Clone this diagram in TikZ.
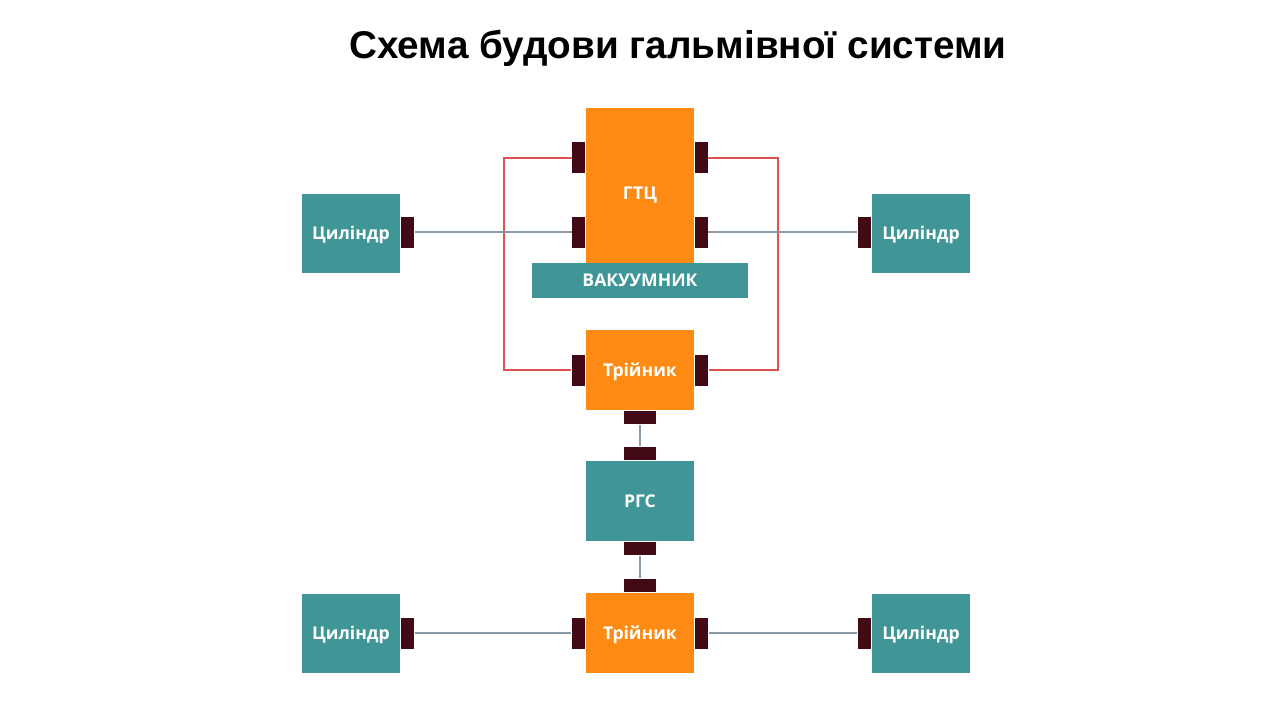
\documentclass[tikz,border=0pt]{standalone}
\usepackage{fontspec}
\setmainfont{Liberation Sans}
\newfontfamily\boxfont{Open Sans}
\usetikzlibrary{positioning}
\definecolor{GTCorange}{RGB}{253,139,19}
\definecolor{RGSteal}{RGB}{64,150,150}
\definecolor{portdark}{RGB}{66,10,20}
\definecolor{pipered}{RGB}{222,82,82}
\definecolor{pipegrey}{RGB}{138,154,166}
\tikzset{
	unit/.style={shape=rectangle, inner sep=0pt, text=white, text height=3.6pt, text depth=0pt, font=\boxfont\bfseries\fontsize{5}{6}\selectfont},
	orangeunit/.style={unit, fill=GTCorange, minimum width=1.08cm, minimum height=0.8cm},
	tealunit/.style={unit, fill=RGSteal, minimum width=1.08cm, minimum height=0.8cm},
	cylunit/.style={unit, fill=RGSteal, minimum width=0.98cm, minimum height=0.79cm},
	sideport/.style={shape=rectangle, inner sep=0pt, fill=portdark, minimum width=0.13cm, minimum height=0.31cm},
	endport/.style={shape=rectangle, inner sep=0pt, fill=portdark, minimum width=0.32cm, minimum height=0.13cm},
	redpipe/.style={draw=pipered, line width=0.02cm},
	greypipe/.style={draw=pipegrey, line width=0.02cm}
}
\begin{document}
\begin{tikzpicture}[x=0.01cm, y=-0.01cm]
	\useasboundingbox[fill=white] (0,0) rectangle (1280,720);

	% title
	\node[font=\bfseries\fontsize{11}{13}\selectfont] (title) at (678,48) {Схема будови гальмівної системи};

	% GTC with vacuum booster
	\node[orangeunit, minimum height=1.7cm] (gtc) at (640,193) {ГТЦ};
	\node[tealunit, minimum width=2.16cm, minimum height=0.35cm] (vac) at (640,280.5) {ВАКУУМНИК};
	\node[sideport, anchor=east] (gtcL1) at (586,157.5) {};
	\node[sideport, anchor=east] (gtcL2) at (586,232) {};
	\node[sideport, anchor=west] (gtcR1) at (694,157.5) {};
	\node[sideport, anchor=west] (gtcR2) at (694,232) {};

	% upper tee
	\node[orangeunit] (teeA) at (640,370) {Трійник};
	\node[sideport, anchor=east] (teeAL) at (teeA.west) {};
	\node[sideport, anchor=west] (teeAR) at (teeA.east) {};
	\node[endport, below=0cm of teeA] (teeAB) {};

	% RGS
	\node[tealunit] (rgs) at (640,501) {РГС};
	\node[endport, above=0cm of rgs] (rgsT) {};
	\node[endport, below=0cm of rgs] (rgsB) {};

	% lower tee
	\node[orangeunit] (teeB) at (640,633) {Трійник};
	\node[endport, above=0cm of teeB] (teeBT) {};
	\node[sideport, anchor=east] (teeBL) at (teeB.west) {};
	\node[sideport, anchor=west] (teeBR) at (teeB.east) {};

	% cylinders
	\node[cylunit] (cylA) at (351,233.5) {Циліндр};
	\node[cylunit] (cylB) at (921,233.5) {Циліндр};
	\node[cylunit] (cylC) at (351,633) {Циліндр};
	\node[cylunit] (cylD) at (921,633) {Циліндр};
	\node[sideport, anchor=west] (cylAp) at (cylA.east |- gtcL2) {};
	\node[sideport, anchor=east] (cylBp) at (cylB.west |- gtcR2) {};
	\node[sideport, anchor=west] (cylCp) at (cylC.east) {};
	\node[sideport, anchor=east] (cylDp) at (cylD.west) {};

	% red loops
	\draw[redpipe] (gtcL1.west) -- ++(-68,0) |- (teeAL.west);
	\draw[redpipe] (gtcR1.east) -- ++(70,0) |- (teeAR.east);

	% grey pipes
	\draw[greypipe] (cylAp.east) -- (gtcL2.west);
	\draw[greypipe] (gtcR2.east) -- (cylBp.west);
	\draw[greypipe] (teeAB.south) -- (rgsT.north);
	\draw[greypipe] (rgsB.south) -- (teeBT.north);
	\draw[greypipe] (cylCp.east) -- (teeBL.west);
	\draw[greypipe] (teeBR.east) -- (cylDp.west);
\end{tikzpicture}
\end{document}
